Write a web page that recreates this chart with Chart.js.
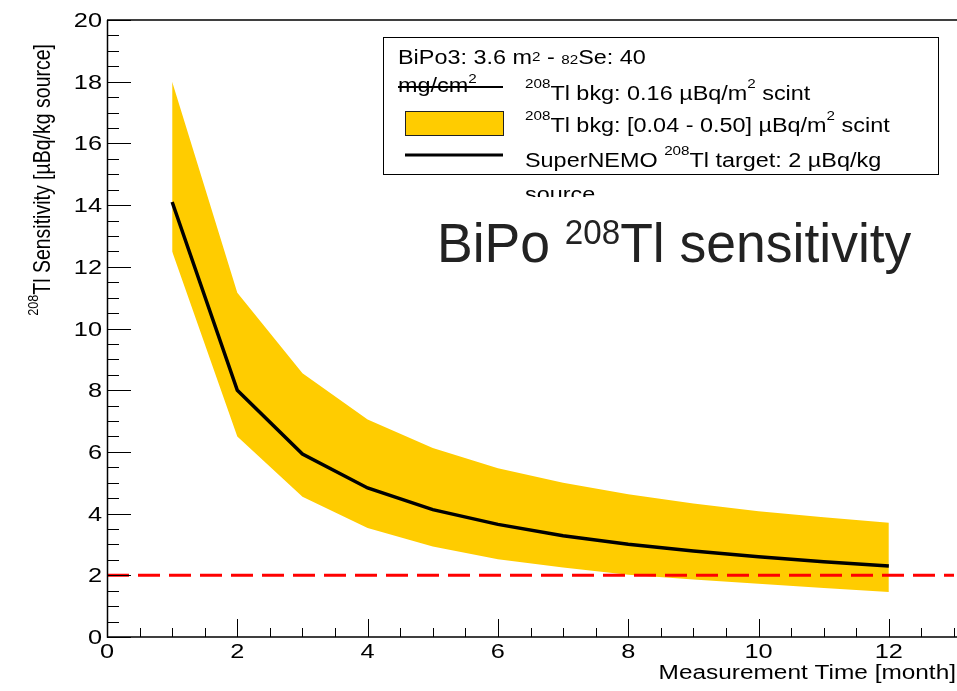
<!DOCTYPE html>
<html>
<head>
<meta charset="utf-8">
<script src="https://cdn.jsdelivr.net/npm/chart.js@4.4.1/dist/chart.umd.min.js"></script>
<style>
html,body{margin:0;padding:0;background:#fff;}
#wrap{width:957px;height:691px;position:relative;}
</style>
</head>
<body>
<div id="wrap"><canvas id="c" width="957" height="691"></canvas></div>
<script>
// ---- data ----
const months = [1, 2, 3, 4, 5, 6, 7, 8, 9, 10, 11, 12];
const sensitivity = [14.1, 8.0, 5.93, 4.83, 4.13, 3.65, 3.28, 3.01, 2.79, 2.6, 2.44, 2.3];
const bandUpper = [18.0, 11.16, 8.55, 7.05, 6.13, 5.47, 5.0, 4.63, 4.33, 4.08, 3.88, 3.7];
const bandLower = [12.5, 6.5, 4.55, 3.53, 2.93, 2.52, 2.25, 2.02, 1.86, 1.73, 1.59, 1.46];
const targetLevel = 2;
const xRange = [0, 13];
const yRange = [0, 20];
const xTicks = [0, 2, 4, 6, 8, 10, 12];
const yTicks = [0, 2, 4, 6, 8, 10, 12, 14, 16, 18, 20];

const FONT = '"Liberation Sans", Arial, Helvetica, sans-serif';

function pts(ys){ return months.map((m,i)=>({x:m, y:ys[i]})); }

// parts: [text, sizeRatio (0 = normal), raise (in em of base size)]
function rich(ctx, parts, x, y, size, align, hs){
  hs = hs || 1;
  let w = 0;
  parts.forEach(p=>{ ctx.font = (p[1]?size*p[1]:size)+'px '+FONT; w += ctx.measureText(p[0]).width; });
  const W = w*hs;
  const x0 = align==='right' ? x-W : (align==='center' ? x-W/2 : x);
  ctx.save();
  ctx.translate(x0, y);
  ctx.scale(hs, 1);
  ctx.textAlign = 'left';
  ctx.textBaseline = 'alphabetic';
  let cx = 0;
  parts.forEach(p=>{
    ctx.font = (p[1]?size*p[1]:size)+'px '+FONT;
    ctx.fillText(p[0], cx, -(p[2]||0)*size);
    cx += ctx.measureText(p[0]).width;
  });
  ctx.restore();
  return W;
}

const decor = {
  id:'decor',
  afterDatasetsDraw(chart){
    const ctx = chart.ctx, a = chart.chartArea;
    const xs = chart.scales.x, ys = chart.scales.y;
    ctx.save();
    ctx.strokeStyle = '#000';
    ctx.lineWidth = 1.5;
    // frame lines
    ctx.beginPath();
    ctx.moveTo(a.left+0.5, a.top); ctx.lineTo(a.left+0.5, a.bottom); ctx.lineTo(957, a.bottom);
    ctx.moveTo(a.left, a.top); ctx.lineTo(957, a.top);
    ctx.stroke();
    // ticks (inward)
    ctx.lineWidth = 1;
    ctx.beginPath();
    for (let v = xRange[0]; v <= xRange[1] + 1e-9; v += 0.5){
      const px = Math.round(xs.getPixelForValue(v)) + 0.5;
      const major = Math.abs(v/2 - Math.round(v/2)) < 1e-6;
      ctx.moveTo(px, a.bottom); ctx.lineTo(px, a.bottom - (major ? 18 : 9));
    }
    for (let v = yRange[0]; v <= yRange[1] + 1e-9; v += 0.5){
      const py = Math.round(ys.getPixelForValue(v)) + 0.5;
      const major = Math.abs(v/2 - Math.round(v/2)) < 1e-6;
      ctx.moveTo(a.left, py); ctx.lineTo(a.left + (major ? 24 : 12), py);
    }
    ctx.stroke();

    // tick labels
    ctx.fillStyle = '#000';
    xTicks.forEach(v=>{
      rich(ctx, [[String(v)]], xs.getPixelForValue(v), 658, 19.5, 'center', 1.3);
    });
    yTicks.forEach(v=>{
      rich(ctx, [[String(v)]], 102, ys.getPixelForValue(v) + 7, 19.5, 'right', 1.3);
    });

    // axis titles
    rich(ctx, [['Measurement Time [month]']], 956, 679, 20, 'right', 1.22);
    ctx.save();
    ctx.translate(50, 44);
    ctx.rotate(-Math.PI/2);
    ctx.scale(1, 1.2);
    rich(ctx, [['208',0.65,0.5],['Tl Sensitivity [\u00b5Bq/kg source]']], 0, 0, 19.5, 'right', 1);
    ctx.restore();

    // big title
    ctx.fillStyle = '#222';
    rich(ctx, [['BiPo '],['208',0.62,0.33],['Tl sensitivity']], 437, 262, 56, 'left', 0.955);

    // legend
    ctx.fillStyle = '#fff';
    ctx.fillRect(383, 37, 555, 137);
    ctx.strokeStyle = '#000';
    ctx.lineWidth = 1;
    ctx.strokeRect(383.5, 37.5, 555, 137);
    ctx.fillStyle = '#000';
    const fs = 20, hs = 1.17;
    rich(ctx, [['BiPo3: 3.6 m'],['2',0.65,0.15],[' - '],['82',0.65,0.02],['Se: 40']], 398, 64, fs, 'left', hs);
    rich(ctx, [['mg/cm'],['2',0.65,0.45]], 398, 92, fs, 'left', hs);
    rich(ctx, [['208',0.65,0.6],['Tl bkg: 0.16 \u00b5Bq/m'],['2',0.65,0.6],[' scint']], 525, 100, fs, 'left', hs);
    rich(ctx, [['208',0.65,0.6],['Tl bkg: [0.04 - 0.50] \u00b5Bq/m'],['2',0.65,0.6],[' scint']], 525, 132, fs, 'left', hs);
    rich(ctx, [['SuperNEMO '],['208',0.65,0.6],['Tl target: 2 \u00b5Bq/kg']], 525, 167, fs, 'left', hs);
    ctx.save();
    ctx.beginPath(); ctx.rect(500, 176, 200, 21); ctx.clip();
    rich(ctx, [['source']], 525, 201, fs, 'left', hs);
    ctx.restore();
    // samples
    ctx.lineWidth = 1.8;
    ctx.beginPath(); ctx.moveTo(398, 87); ctx.lineTo(503, 87); ctx.stroke();
    ctx.fillStyle = '#FFCC00';
    ctx.fillRect(405, 111, 98, 24);
    ctx.strokeStyle = '#222';
    ctx.lineWidth = 1;
    ctx.strokeRect(405.5, 111.5, 98, 24);
    ctx.strokeStyle = '#000';
    ctx.lineWidth = 3;
    ctx.beginPath(); ctx.moveTo(405, 155); ctx.lineTo(503, 155); ctx.stroke();
    ctx.restore();
  }
};

new Chart(document.getElementById('c'), {
  type:'line',
  data:{
    datasets:[
      {label:'upper', data:pts(bandUpper), fill:'+1', backgroundColor:'#FFCC00', borderWidth:0, borderColor:'rgba(0,0,0,0)', pointRadius:0, order:3},
      {label:'lower', data:pts(bandLower), fill:false, borderWidth:0, borderColor:'rgba(0,0,0,0)', pointRadius:0, order:3},
      {label:'sens', data:pts(sensitivity), fill:false, borderColor:'#000', borderWidth:3.5, pointRadius:0, order:2},
      {label:'target', data:[{x:xRange[0], y:targetLevel},{x:xRange[1], y:targetLevel}], fill:false, borderColor:'#FF0000', borderWidth:3, borderDash:[22,9], pointRadius:0, order:1}
    ]
  },
  options:{
    responsive:false,
    animation:false,
    events:[],
    layout:{padding:{top:20, right:3, left:0, bottom:0}},
    plugins:{legend:{display:false}, tooltip:{enabled:false}},
    elements:{line:{tension:0}},
    scales:{
      x:{
        type:'linear', min:xRange[0], max:xRange[1],
        grid:{display:false, drawTicks:false, tickLength:0}, border:{display:false},
        afterBuildTicks(s){ s.ticks = xTicks.map(v=>({value:v})); },
        afterFit(s){ s.height = 54; },
        ticks:{display:false}
      },
      y:{
        type:'linear', min:yRange[0], max:yRange[1],
        grid:{display:false, drawTicks:false, tickLength:0}, border:{display:false},
        afterBuildTicks(s){ s.ticks = yTicks.map(v=>({value:v})); },
        afterFit(s){ s.width = 107; },
        ticks:{display:false}
      }
    }
  },
  plugins:[decor]
});
</script>
</body>
</html>
